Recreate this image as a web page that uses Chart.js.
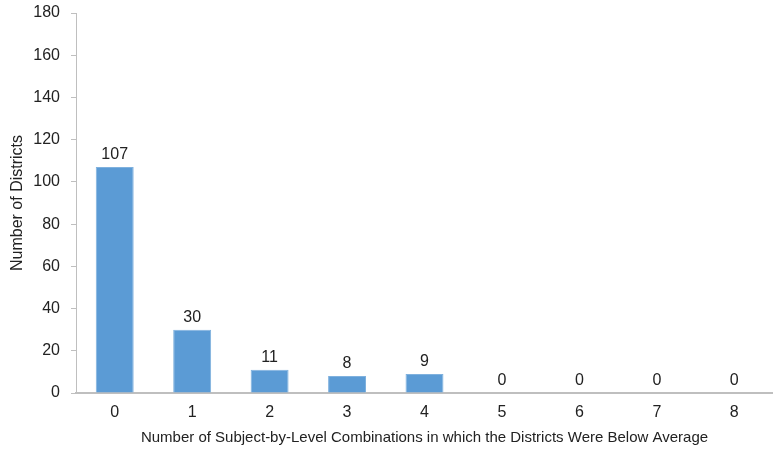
<!DOCTYPE html>
<html>
<head>
<meta charset="utf-8">
<script src="https://cdn.jsdelivr.net/npm/chart.js@4/dist/chart.umd.min.js"></script>
<style>
  html, body { margin: 0; padding: 0; background: #fff; }
  #wrap { width: 773px; height: 455px; }
</style>
</head>
<body>
<div id="wrap"><canvas id="districts"></canvas></div>
<script>
// Data
const categories = ['0', '1', '2', '3', '4', '5', '6', '7', '8'];
const districtCounts = [107, 30, 11, 8, 9, 0, 0, 0, 0];
const yTicks = [0, 20, 40, 60, 80, 100, 120, 140, 160, 180];

const FONT = '"Liberation Sans", Arial, Helvetica, sans-serif';
const TEXT = '#222222';
const AXIS = '#bfbfbf';

// Value labels above each bar
const barLabels = {
    id: 'barLabels',
    afterDatasetsDraw(chart) {
        const ctx = chart.ctx;
        const meta = chart.getDatasetMeta(0);
        ctx.save();
        ctx.font = '16px ' + FONT;
        ctx.fillStyle = TEXT;
        ctx.textAlign = 'center';
        ctx.textBaseline = 'alphabetic';
        meta.data.forEach((bar, i) => {
            ctx.fillText(String(districtCounts[i]), bar.x, bar.y - 8);
        });
        ctx.restore();
    }
};

const ctx = document.getElementById('districts').getContext('2d');
new Chart(ctx, {
    type: 'bar',
    data: {
        labels: categories,
        datasets: [{
            data: districtCounts,
            backgroundColor: '#5b9bd5',
            borderColor: '#7fb1de',
            borderWidth: 1,
            barPercentage: 0.49,
            categoryPercentage: 1
        }]
    },
    options: {
        responsive: true,
        maintainAspectRatio: false,
        animation: false,
        layout: { padding: { left: 0, right: 0, top: 13, bottom: 0 } },
        plugins: {
            legend: { display: false },
            tooltip: { enabled: false }
        },
        scales: {
            x: {
                grid: { display: false },
                border: { display: true, color: AXIS, width: 2 },
                ticks: { color: TEXT, font: { family: FONT, size: 16 }, padding: 2 },
                title: {
                    display: true,
                    text: 'Number of Subject-by-Level Combinations in which the Districts Were Below Average',
                    color: TEXT,
                    font: { family: FONT, size: 15 },
                    padding: { top: 0, bottom: 8 }
                },
                afterFit(scale) { scale.height = 62; }
            },
            y: {
                min: 0,
                max: 180,
                afterBuildTicks(scale) { scale.ticks = yTicks.map(v => ({ value: v })); },
                grid: { drawOnChartArea: false, drawTicks: true, tickLength: 5, color: AXIS },
                border: { display: true, color: AXIS, width: 1 },
                // tiny lineHeight keeps the top label from pushing the plot down
                ticks: { color: TEXT, font: { family: FONT, size: 16, lineHeight: 0.2 }, padding: 11 },
                title: {
                    display: true,
                    text: 'Number of Districts',
                    color: TEXT,
                    font: { family: FONT, size: 16 },
                    padding: { top: 8, bottom: 0 }
                },
                afterFit(scale) { scale.width = 76; }
            }
        }
    },
    plugins: [barLabels]
});
</script>
</body>
</html>
